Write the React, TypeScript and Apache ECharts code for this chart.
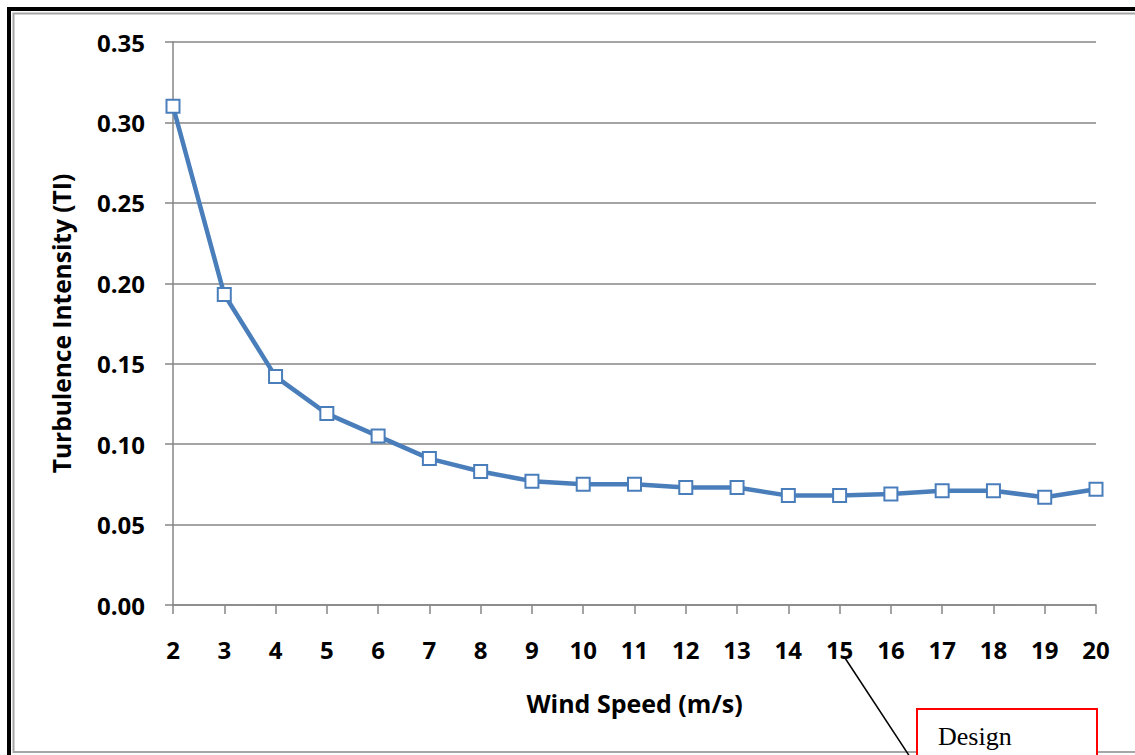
import React, { useEffect, useRef } from "react";
import * as echarts from "echarts";

const windSpeeds = ["2","3","4","5","6","7","8","9","10","11","12","13","14","15","16","17","18","19","20"];
const turbulence = [0.310, 0.193, 0.142, 0.119, 0.105, 0.091, 0.083, 0.077, 0.075, 0.075, 0.073, 0.073, 0.068, 0.068, 0.069, 0.071, 0.071, 0.067, 0.072];
const yTicks = { min: 0, max: 0.35, interval: 0.05 };
const xTitle = "Wind Speed (m/s)";
const yTitle = "Turbulence Intensity (TI)";
const noteText = "Design";

export default function App() {
  const ref = useRef<HTMLDivElement>(null);
  useEffect(() => {
    if (!ref.current) return;
    const chart = echarts.init(ref.current, null, { renderer: "svg" });
    const font = "Open Sans";
    chart.setOption({
      animation: false,
      backgroundColor: "#ffffff",
      grid: { left: 173, top: 42, right: 39, bottom: 150, containLabel: false },
      xAxis: {
        type: "category",
        data: windSpeeds,
        boundaryGap: false,
        name: xTitle,
        nameLocation: "middle",
        nameGap: 85,
        nameTextStyle: { fontFamily: font, fontWeight: "bold", fontSize: 25, color: "#000" },
        axisLine: { lineStyle: { color: "#868686", width: 1.5 } },
        axisTick: { show: true, length: 9, lineStyle: { color: "#868686", width: 1.5 } },
        axisLabel: { margin: 32, fontFamily: font, fontWeight: "bold", fontSize: 24, color: "#000" },
        splitLine: { show: false },
      },
      yAxis: {
        type: "value",
        min: yTicks.min,
        max: yTicks.max,
        interval: yTicks.interval,
        name: yTitle,
        nameLocation: "middle",
        nameGap: 99,
        nameTextStyle: { fontFamily: font, fontWeight: "bold", fontSize: 24.5, color: "#000" },
        axisLine: { show: true, lineStyle: { color: "#868686", width: 1.5 } },
        axisTick: { show: true, length: 8, lineStyle: { color: "#868686", width: 1.5 } },
        axisLabel: {
          margin: 28,
          fontFamily: font,
          fontWeight: "bold",
          fontSize: 24,
          color: "#000",
          formatter: (v: number) => v.toFixed(2),
        },
        splitLine: { show: true, lineStyle: { color: "#868686", width: 1.5 } },
      },
      series: [
        {
          type: "line",
          data: turbulence,
          symbol: "rect",
          symbolSize: 13,
          lineStyle: { color: "#4a7ebb", width: 4.5 },
          itemStyle: { color: "#ffffff", borderColor: "#4a7ebb", borderWidth: 2 },
          z: 3,
        },
      ],
      graphic: [
        {
          type: "rect",
          shape: { x: 9, y: 9, width: 1200, height: 900 },
          style: { fill: "none", stroke: "#000", lineWidth: 4 },
          silent: true,
        },
        {
          type: "rect",
          shape: { x: 13.5, y: 13.5, width: 1200, height: 738.5 },
          style: { fill: "none", stroke: "#a6a6a6", lineWidth: 2 },
          silent: true,
        },
        {
          type: "line",
          shape: { x1: 845, y1: 658, x2: 912, y2: 760 },
          style: { stroke: "#000", lineWidth: 1.5 },
          silent: true,
          z: 10,
        },
        {
          type: "rect",
          shape: { x: 917, y: 709, width: 180, height: 70 },
          style: { fill: "#fff", stroke: "#ff0000", lineWidth: 2 },
          silent: true,
          z: 11,
        },
        {
          type: "text",
          x: 938,
          y: 736,
          style: {
            text: noteText,
            fontFamily: "Liberation Serif",
            fontSize: 26,
            fill: "#000",
            verticalAlign: "middle",
          },
          silent: true,
          z: 12,
        },
      ],
    });
    return () => chart.dispose();
  }, []);
  return (
    <div
      ref={ref}
      style={{ position: "absolute", left: 0, top: 0, width: 1135, height: 755 }}
    />
  );
}
